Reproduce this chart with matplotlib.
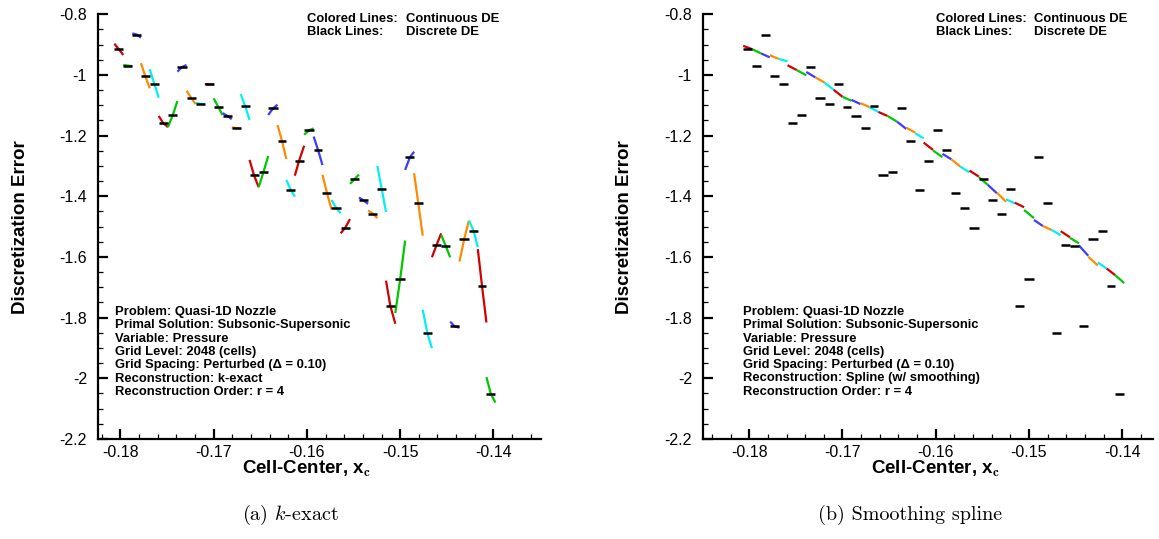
import numpy
from matplotlib import pyplot
from matplotlib.ticker import MultipleLocator, FuncFormatter

pyplot.rcParams['font.family'] = ['Liberation Sans', 'DejaVu Sans']
pyplot.rcParams['mathtext.fontset'] = 'cm'
pyplot.rcParams['axes.unicode_minus'] = False

# Centros de celda
cell_x = [-0.18017, -0.17921, -0.17824, -0.17735, -0.17636, -0.17542, -0.17438,
          -0.17339, -0.17242, -0.17143, -0.17046, -0.16953, -0.16856, -0.16757,
          -0.16663, -0.16567, -0.16467, -0.16363, -0.16267, -0.16174, -0.16085,
          -0.15974, -0.15881, -0.15785, -0.15688, -0.15588, -0.15488, -0.15396,
          -0.15292, -0.15198, -0.15106, -0.14999, -0.14895, -0.14806, -0.14710,
          -0.14609, -0.14512, -0.14416, -0.14313, -0.14212, -0.14123, -0.14027]

# Error discreto (lineas negras)
discrete_de = [-0.915, -0.969, -0.867, -1.002, -1.029, -1.158, -1.132, -0.974, -1.075,
               -1.095, -1.031, -1.104, -1.134, -1.175, -1.102, -1.331, -1.321, -1.110,
               -1.218, -1.378, -1.284, -1.182, -1.247, -1.389, -1.437, -1.503, -1.343,
               -1.413, -1.457, -1.375, -1.760, -1.671, -1.271, -1.422, -1.849, -1.560,
               -1.563, -1.829, -1.540, -1.514, -1.694, -2.052]

# Error continuo k-exact: cara izquierda, centro, cara derecha
kex_left = [-0.897, -0.967, -0.863, -0.961, -0.981, -1.135, -1.172, -0.989, -1.052,
            -1.092, -1.030, -1.077, -1.126, -1.173, -1.063, -1.280, -1.370, -1.132,
            -1.165, -1.346, -1.332, -1.197, -1.203, -1.329, -1.412, -1.522, -1.359,
            -1.404, -1.447, -1.300, -1.678, -1.785, -1.313, -1.324, -1.774, -1.601,
            -1.527, -1.813, -1.615, -1.480, -1.574, -1.996]
kex_mid = [-0.915, -0.969, -0.867, -1.002, -1.029, -1.158, -1.132, -0.974, -1.075,
           -1.095, -1.031, -1.104, -1.134, -1.175, -1.102, -1.331, -1.321, -1.110,
           -1.218, -1.378, -1.284, -1.182, -1.247, -1.389, -1.437, -1.503, -1.343,
           -1.413, -1.457, -1.375, -1.760, -1.671, -1.271, -1.422, -1.849, -1.560,
           -1.563, -1.829, -1.540, -1.514, -1.694, -2.052]
kex_right = [-0.934, -0.971, -0.877, -1.044, -1.075, -1.172, -1.086, -0.967, -1.096,
             -1.097, -1.031, -1.132, -1.146, -1.176, -1.148, -1.370, -1.267, -1.098,
             -1.277, -1.401, -1.233, -1.176, -1.297, -1.443, -1.456, -1.475, -1.328,
             -1.425, -1.472, -1.452, -1.820, -1.546, -1.253, -1.530, -1.901, -1.522,
             -1.601, -1.833, -1.480, -1.568, -1.816, -2.080]

# Error continuo con spline suavizado: cara izquierda, cara derecha
spl_left = [-0.904, -0.915, -0.929, -0.935, -0.947, -0.968, -0.984, -0.990, -1.008,
            -1.025, -1.049, -1.072, -1.082, -1.093, -1.106, -1.122, -1.135, -1.154,
            -1.174, -1.192, -1.223, -1.249, -1.260, -1.278, -1.302, -1.315, -1.337,
            -1.362, -1.388, -1.410, -1.421, -1.445, -1.478, -1.498, -1.511, -1.515,
            -1.537, -1.562, -1.599, -1.618, -1.638, -1.660]
spl_right = [-0.915, -0.929, -0.942, -0.947, -0.955, -0.984, -1.001, -1.008, -1.025,
             -1.049, -1.072, -1.085, -1.096, -1.106, -1.122, -1.135, -1.154, -1.178,
             -1.190, -1.209, -1.247, -1.271, -1.278, -1.302, -1.321, -1.335, -1.362,
             -1.390, -1.418, -1.423, -1.436, -1.472, -1.498, -1.511, -1.528, -1.535,
             -1.555, -1.596, -1.628, -1.638, -1.660, -1.686]

colors = ['#d20000', '#00c800', '#3c3cff', '#ff8a00', '#00f0f0']

info_kex = ['Problem: Quasi-1D Nozzle', 'Primal Solution: Subsonic-Supersonic',
            'Variable: Pressure', 'Grid Level: 2048 (cells)',
            'Grid Spacing: Perturbed (\u0394 = 0.10)', 'Reconstruction: k-exact',
            'Reconstruction Order: r = 4']
info_spl = info_kex[:5] + ['Reconstruction: Spline (w/ smoothing)',
                           'Reconstruction Order: r = 4']

# Caras de celda (punto medio entre centros)
xc = numpy.array(cell_x)
faces = numpy.concatenate([[xc[0] - (xc[1] - xc[0]) / 2], (xc[:-1] + xc[1:]) / 2,
                           [xc[-1] + (xc[-1] - xc[-2]) / 2]])

W, H = 1159, 539
fig = pyplot.figure(figsize=(W / 100, H / 100), dpi=100)
ax1 = fig.add_axes([98 / W, 1 - 439 / H, 443 / W, 424.7 / H])
ax2 = fig.add_axes([703 / W, 1 - 439 / H, 450 / W, 424.7 / H])

for i in range(len(xc)):
    c = colors[i % 5]
    ax1.plot([faces[i], xc[i], faces[i + 1]], [kex_left[i], kex_mid[i], kex_right[i]],
             color=c, lw=1.6, solid_capstyle='butt', zorder=2)
    ax2.plot([faces[i], faces[i + 1]], [spl_left[i], spl_right[i]],
             color=c, lw=1.6, solid_capstyle='butt', zorder=2)

fmt = FuncFormatter(lambda v, p: '%g' % round(v, 4))
for ax, xlim in [(ax1, (-0.1824, -0.1349)), (ax2, (-0.18496, -0.1367))]:
    ax.hlines(discrete_de, faces[:-1], faces[1:], color='black', lw=1.8, zorder=3)
    ax.set_xlim(*xlim)
    ax.set_ylim(-2.2, -0.8)
    ax.spines['top'].set_visible(False)
    ax.spines['right'].set_visible(False)
    ax.spines['left'].set_linewidth(1.6)
    ax.spines['bottom'].set_linewidth(1.6)
    ax.xaxis.set_major_locator(MultipleLocator(0.01))
    ax.xaxis.set_minor_locator(MultipleLocator(0.002))
    ax.yaxis.set_major_locator(MultipleLocator(0.2))
    ax.yaxis.set_minor_locator(MultipleLocator(0.05))
    ax.xaxis.set_major_formatter(fmt)
    ax.yaxis.set_major_formatter(fmt)
    ax.tick_params(which='both', direction='in', labelsize=11.5)
    ax.tick_params(which='major', length=7, width=1.6)
    ax.tick_params(which='minor', length=3.5, width=0.9)
    ax.tick_params(axis='y', pad=8)
    ax.tick_params(axis='x', pad=4)
    ax.set_ylabel('Discretization Error', fontsize=13.5, fontweight='bold')
    ax.yaxis.set_label_coords(-0.155, 0.5)
    ax.text(-0.16, -0.07, r'Cell-Center, x$_\mathbf{c}$', fontsize=13.5, fontweight='bold',
            ha='center', va='center', transform=ax.get_xaxis_transform())

# Anotaciones
fs = 9.4
for x0 in [307, 935.7]:
    fig.text(x0 / W, 1 - 19.5 / H, 'Colored Lines:', fontsize=fs, fontweight='bold', va='center')
    fig.text(x0 / W, 1 - 32 / H, 'Black Lines:', fontsize=fs, fontweight='bold', va='center')
    fig.text((x0 + 98.5) / W, 1 - 19.5 / H, 'Continuous DE', fontsize=fs, fontweight='bold', va='center')
    fig.text((x0 + 98.5) / W, 1 - 32 / H, 'Discrete DE', fontsize=fs, fontweight='bold', va='center')
for x0, info in [(115, info_kex), (742.7, info_spl)]:
    for k, line in enumerate(info):
        fig.text(x0 / W, 1 - (312 + 13.3 * k) / H, line, fontsize=fs,
                 fontweight='bold', va='center')

fig.text(290 / W, 1 - 515 / H, '(a) $k$-exact', family='cmr10', fontsize=14.5,
         ha='center', va='center')
fig.text(910 / W, 1 - 515 / H, '(b) Smoothing spline', family='cmr10', fontsize=14.5,
         ha='center', va='center')

pyplot.savefig('out.png', dpi=100)
pyplot.close()
